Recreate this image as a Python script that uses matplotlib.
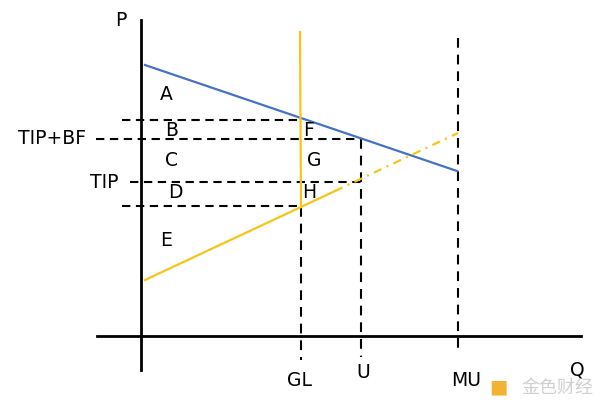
import matplotlib.pyplot as plt

plt.rcParams['font.family'] = ['DejaVu Sans']
plt.rcParams['lines.scale_dashes'] = False

# coordinates measured from the axis origin (Q to the right, P upward)
axis_q = [-44, 440]
axis_p = [-34, 316]

demand_q = [4, 316]          # blue line
demand_p = [271, 165]

supply_q = [4, 160, 194]     # solid yellow part
supply_p = [56, 129, 145]
supply_ext_q = [194, 317]    # dash-dot continuation
supply_ext_p = [145, 203]

cap_q = [159, 160]           # vertical yellow line at GL
cap_p = [304, 129]

h_levels = [216, 197, 154, 130]
h_start = [-19, -45, -11, -19]
h_end = [159, 220, 220, 159]

v_q = [160, 220, 317]
v_top = [129, 197, 298]
v_bottom = [-24, -21, -16]

area_labels = ['A', 'B', 'C', 'D', 'E', 'F', 'G', 'H']
area_q = [25, 31, 31, 34, 25, 168, 173, 168]
area_p = [241, 206, 176, 144, 96, 206, 176, 143]

price_labels = ['TIP+BF', 'TIP']
price_q = [-89, -37]
price_p = [197, 154]

qty_labels = ['GL', 'U', 'MU']
qty_q = [159, 222, 325]
qty_p = [-45, -36, -45]

fig = plt.figure(figsize=(6, 4.08), dpi=100)
ax = fig.add_axes([0, 0, 1, 1])
ax.set_xlim(-141, 459)
ax.set_ylim(-72, 336)
ax.axis('off')

ax.plot(axis_q, [0, 0], color='black', lw=2)
ax.plot([0, 0], axis_p, color='black', lw=2)

for y, x0, x1 in zip(h_levels, h_start, h_end):
    ax.plot([x0, x1], [y, y], color='black', lw=1.5, dashes=(6, 4))
for x, y0, y1 in zip(v_q, v_top, v_bottom):
    ax.plot([x, x], [y0, y1], color='black', lw=1.5, dashes=(7, 5))

ax.plot(demand_q, demand_p, color='#4472C4', lw=1.6)
ax.plot(supply_q, supply_p, color='#F5C518', lw=1.6)
ax.plot(supply_ext_q, supply_ext_p, color='#F5C518', lw=1.6, dashes=(6, 4, 1.5, 4))
ax.plot(cap_q, cap_p, color='#F5C518', lw=1.6)

for t, x, y in zip(area_labels, area_q, area_p):
    ax.text(x, y, t, fontsize=13.5, ha='center', va='center')
for t, x, y in zip(price_labels, price_q, price_p):
    ax.text(x, y, t, fontsize=13.5, ha='center', va='center')
for t, x, y in zip(qty_labels, qty_q, qty_p):
    ax.text(x, y, t, fontsize=13.5, ha='center', va='center')

ax.text(-20, 316, 'P', fontsize=13.5, ha='center', va='center')
ax.text(436, -34, 'Q', fontsize=13.5, ha='center', va='center')

# watermark
ax.text(416, -52, '金色财经', fontsize=13, color='#d0d0d0', ha='center', va='center',
        family=['Noto Sans CJK SC', 'DejaVu Sans'])
ax.text(357, -51, '■', fontsize=14, color='#f2b233', ha='center', va='center')

fig.savefig('out.png', dpi=100)
